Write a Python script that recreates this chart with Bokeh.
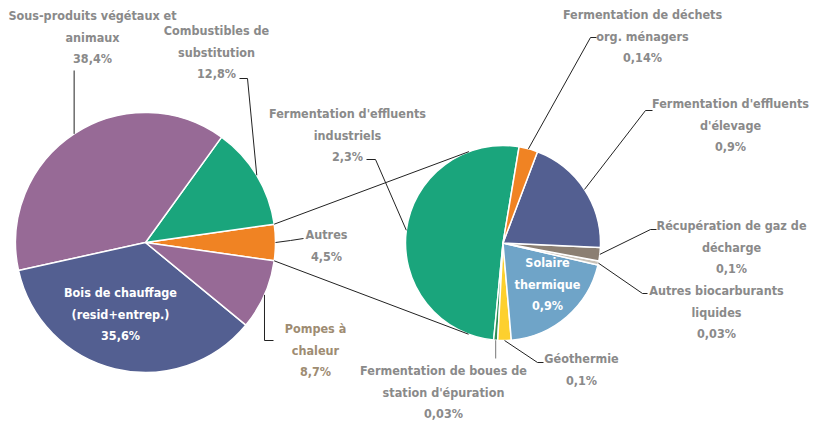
import math
from bokeh.plotting import figure
from bokeh.models import ColumnDataSource
from bokeh.embed import file_html
from bokeh.resources import INLINE
from bokeh.core.properties import value

# ---------------- data ----------------
main_labels = ["Autres", "Combustibles de\nsubstitution", "Sous-produits végétaux et\nanimaux",
               "Bois de chauffage\n(resid+entrep.)", "Pompes à\nchaleur"]
main_values = [4.5, 12.8, 38.4, 35.6, 8.7]
main_colors = ["#f08323", "#1aa57c", "#976a96", "#535f91", "#976a96"]

sub_labels = ["Fermentation d'effluents\nindustriels",
              "Fermentation de boues de\nstation d'épuration",
              "Géothermie",
              "Solaire\nthermique",
              "Autres biocarburants\nliquides",
              "Récupération de gaz de\ndécharge",
              "Fermentation d'effluents\nd'élevage",
              "Fermentation de déchets\norg. ménagers"]
sub_values = [2.3, 0.03, 0.1, 0.9, 0.03, 0.1, 0.9, 0.14]
sub_colors = ["#1aa57c", "#2f8f55", "#fdd02e", "#6fa4c8", "#c9c2b8", "#8b7f72", "#535f91", "#f08323"]

# ---------------- layout ----------------
W, H, M = 814, 421, 0
FONT = "DejaVu Sans Condensed, DejaVu Sans, sans-serif"
GREY = "#8a8a8a"
LINE_H = 21.7


def dx(x):
    return x - M


def dy(y):
    return H + M - y


def pct(v):
    return ("%g" % v).replace(".", ",") + "%"


p = figure(width=W, height=H, x_range=(0, W), y_range=(0, H), min_border=0,
           toolbar_location=None, output_backend="svg")
p.axis.visible = False
p.grid.visible = False
p.outline_line_color = None
p.background_fill_color = "white"


def pie(values, colors, cx, cy, r, start_deg):
    tot = sum(values)
    starts, ends, mids = [], [], []
    a = start_deg
    for v in values:
        b = a + v / tot * 360.0
        starts.append(math.radians(a))
        ends.append(math.radians(b))
        mids.append(math.radians((a + b) / 2))
        a = b
    src = ColumnDataSource(dict(x=[dx(cx)] * len(values), y=[dy(cy)] * len(values),
                                s=starts, e=ends, c=colors))
    p.wedge(x="x", y="y", radius=r, start_angle="s", end_angle="e", fill_color="c",
            line_color="white", line_width=1.5, source=src)
    return starts, ends, mids


# left pie
LCX, LCY, LR = 145, 242, 130
l_start = -main_values[0] / sum(main_values) * 180.0
ls, le, lm = pie(main_values, main_colors, LCX, LCY, LR, l_start)

# right pie
RCX, RCY, RR = 502.5, 242.5, 97.5
rs, re_, rm = pie(sub_values, sub_colors, RCX, RCY, RR, 80.5)


def edge(cx, cy, r, ang):
    return (cx + r * math.cos(ang), cy - r * math.sin(ang))


# connectors between pies (tangent lines): bottom corner -> bottom tangent, top -> top
for ang, sign in ((ls[0], 1), (le[0], -1)):
    px, py = edge(LCX, LCY, LR, ang)
    ddx, ddy = px - RCX, -(py - RCY)
    dist = math.hypot(ddx, ddy)
    base = math.atan2(ddy, ddx)
    alpha = math.acos(RR / dist)
    tx, ty = edge(RCX, RCY, RR, base + sign * alpha)
    p.line([dx(px), dx(tx)], [dy(py), dy(ty)], line_color="#222222", line_width=1)

# leader lines: (elbow, end) in screen coords
main_leaders = [((290, 240), (303, 238)),
                ((247, 78), (239, 78)),
                (None, (73.6, 70)),
                None,
                ((264, 340), (273, 340))]
sub_leaders = [((375, 159), (366, 159)),
               (None, (495.2, 358)),
               ((537, 362), (543, 362)),
               None,
               ((642, 293), (647, 293)),
               ((650, 229), (656, 229)),
               ((645, 110), (652, 110)),
               ((590, 37), (596, 37))]


def draw_leaders(leaders, mids, cx, cy, r, colors_override=None):
    for i, ld in enumerate(leaders):
        if ld is None:
            continue
        ex, ey = edge(cx, cy, r, mids[i])
        pts = [(ex, ey)]
        if ld[0] is not None:
            pts.append(ld[0])
            pts.append(ld[1])
        else:
            pts.append((ex, ld[1][1]))
        col = "#222222"
        if colors_override and i in colors_override:
            col = colors_override[i]
        p.line([dx(a) for a, b in pts], [dy(b) for a, b in pts], line_color=col, line_width=1)


draw_leaders(main_leaders, lm, LCX, LCY, LR)
draw_leaders(sub_leaders, rm, RCX, RCY, RR, {1: "#777777"})

# labels: (center x, first line y) in screen coords, and colour
main_pos = [(326, 234, GREY), (216, 30, GREY), (92, 15, GREY), (120, 292, "white"), (315, 328, "#9e8c72")]
sub_pos = [(347, 113, GREY), (443, 370, GREY), (581, 358, GREY), (547, 262, "white"),
           (716, 290, GREY), (731, 225, GREY), (730, 103, GREY), (642, 14, GREY)]

tx, ty, tt, tc = [], [], [], []
for labels, values, pos in ((main_labels, main_values, main_pos), (sub_labels, sub_values, sub_pos)):
    for lab, v, (x0, y0, col) in zip(labels, values, pos):
        lines = lab.split("\n") + [pct(v)]
        for k, ln in enumerate(lines):
            tx.append(dx(x0))
            ty.append(dy(y0 + k * LINE_H))
            tt.append(ln)
            tc.append(col)

p.text(x="x", y="y", text="t", text_color="c", source=ColumnDataSource(dict(x=tx, y=ty, t=tt, c=tc)),
       text_align="center", text_baseline="middle", text_font=value(FONT),
       text_font_style="bold", text_font_size="12.5px")

open("out.html", "w").write(file_html(p, INLINE))
